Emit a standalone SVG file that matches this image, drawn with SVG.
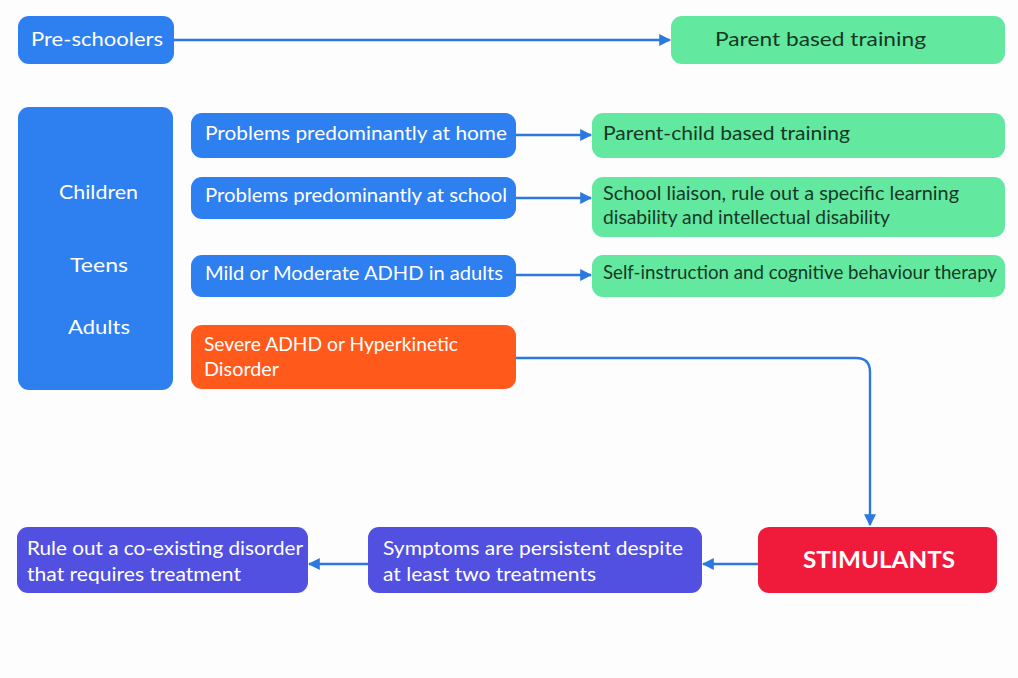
<svg xmlns="http://www.w3.org/2000/svg" width="1018" height="678" viewBox="0 0 1018 678">
<defs>
<style>
.t{font-family:"Lato","Open Sans","Liberation Sans",sans-serif;}
.blue{fill:#2e7ff0;}
.green{fill:#62e89f;}
.orange{fill:#ff5a1c;}
.red{fill:#f01a3a;}
.purple{fill:#5150e0;}
.wt{fill:#ffffff;font-size:19px;}
.gt{fill:#173826;font-size:19px;}
.conn{stroke:#2a78e0;stroke-width:2.4;fill:none;marker-end:url(#ah);}
</style>
<marker id="ah" viewBox="0 0 10 10" refX="9" refY="5" markerWidth="12" markerHeight="12" markerUnits="userSpaceOnUse" orient="auto">
<path d="M0,0 L10,5 L0,10 z" fill="#2a78e0"/>
</marker>
</defs>
<rect width="1018" height="678" fill="#fdfdfd"/>
<g id="connectors">
<line class="conn" x1="174" y1="40" x2="670" y2="40"/>
<line class="conn" x1="516" y1="135" x2="591" y2="135"/>
<line class="conn" x1="516" y1="198" x2="591" y2="198"/>
<line class="conn" x1="516" y1="275" x2="591" y2="275"/>
<path class="conn" d="M516,358 L856,358 Q870,358 870,372 L870,525"/>
<line class="conn" x1="758" y1="564" x2="703" y2="564"/>
<line class="conn" x1="368" y1="564" x2="309" y2="564"/>
</g>
<g id="preschoolers">
<rect class="blue" x="18" y="16" width="156" height="48" rx="11"/>
<text class="t wt" x="31" y="46" font-size="20" textLength="132" lengthAdjust="spacingAndGlyphs">Pre-schoolers</text>
</g>
<g id="parent-training">
<rect class="green" x="671" y="16" width="334" height="48" rx="11"/>
<text class="t gt" x="715" y="46" font-size="20" textLength="211" lengthAdjust="spacingAndGlyphs">Parent based training</text>
</g>
<g id="age-groups">
<rect class="blue" x="18" y="107" width="155" height="283" rx="11"/>
<text class="t wt" x="59" y="199" font-size="20" textLength="79" lengthAdjust="spacingAndGlyphs">Children</text>
<text class="t wt" x="70" y="272" font-size="20" textLength="58" lengthAdjust="spacingAndGlyphs">Teens</text>
<text class="t wt" x="68" y="334" font-size="20" textLength="62" lengthAdjust="spacingAndGlyphs">Adults</text>
</g>
<g id="home">
<rect class="blue" x="191" y="113" width="325" height="45" rx="11"/>
<text class="t wt" x="205" y="140" textLength="302" lengthAdjust="spacingAndGlyphs">Problems predominantly at home</text>
</g>
<g id="school">
<rect class="blue" x="191" y="177" width="325" height="42" rx="11"/>
<text class="t wt" x="205" y="202" textLength="302" lengthAdjust="spacingAndGlyphs">Problems predominantly at school</text>
</g>
<g id="mild">
<rect class="blue" x="191" y="255" width="325" height="42" rx="11"/>
<text class="t wt" x="205" y="280" textLength="298" lengthAdjust="spacingAndGlyphs">Mild or Moderate ADHD in adults</text>
</g>
<g id="severe">
<rect class="orange" x="191" y="325" width="325" height="64" rx="11"/>
<text class="t wt" x="204" y="351" textLength="254" lengthAdjust="spacingAndGlyphs">Severe ADHD or Hyperkinetic</text>
<text class="t wt" x="204" y="376" textLength="75" lengthAdjust="spacingAndGlyphs">Disorder</text>
</g>
<g id="parent-child">
<rect class="green" x="592" y="113" width="413" height="45" rx="11"/>
<text class="t gt" x="603" y="140" textLength="247" lengthAdjust="spacingAndGlyphs">Parent-child based training</text>
</g>
<g id="liaison">
<rect class="green" x="592" y="177" width="413" height="60" rx="11"/>
<text class="t gt" x="603" y="200" textLength="356" lengthAdjust="spacingAndGlyphs">School liaison, rule out a specific learning</text>
<text class="t gt" x="603" y="224" textLength="287" lengthAdjust="spacingAndGlyphs">disability and intellectual disability</text>
</g>
<g id="self-instruction">
<rect class="green" x="592" y="255" width="413" height="42" rx="11"/>
<text class="t gt" x="603" y="279" textLength="394" lengthAdjust="spacingAndGlyphs">Self-instruction and cognitive behaviour therapy</text>
</g>
<g id="stimulants">
<rect class="red" x="758" y="527" width="239" height="66" rx="11"/>
<text class="t" x="803" y="568" font-size="22" font-weight="bold" fill="#ffffff" textLength="152" lengthAdjust="spacingAndGlyphs">STIMULANTS</text>
</g>
<g id="symptoms">
<rect class="purple" x="368" y="527" width="334" height="66" rx="11"/>
<text class="t wt" x="383" y="555" textLength="300" lengthAdjust="spacingAndGlyphs">Symptoms are persistent despite</text>
<text class="t wt" x="383" y="581" textLength="213" lengthAdjust="spacingAndGlyphs">at least two treatments</text>
</g>
<g id="rule-out">
<rect class="purple" x="17" y="527" width="291" height="66" rx="11"/>
<text class="t wt" x="27" y="555" textLength="276" lengthAdjust="spacingAndGlyphs">Rule out a co-existing disorder</text>
<text class="t wt" x="27" y="581" textLength="214" lengthAdjust="spacingAndGlyphs">that requires treatment</text>
</g>
</svg>
